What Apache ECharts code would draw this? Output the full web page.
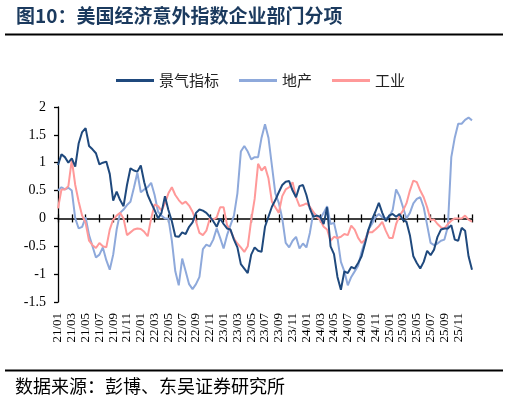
<!DOCTYPE html>
<html>
<head>
<meta charset="utf-8">
<script src="https://cdn.jsdelivr.net/npm/echarts@6/dist/echarts.min.js"></script>
<style>
html,body{margin:0;padding:0;background:#fff;}
#chart{width:509px;height:403px;}
</style>
</head>
<body>
<div id="chart"></div>
<script>
// Tick labels shown every two months
const tickLabels = ["21/01","21/03","21/05","21/07","21/09","21/11","22/01","22/03","22/05","22/07","22/09","22/11","23/01","23/03","23/05","23/07","23/09","23/11","24/01","24/03","24/05","24/07","24/09","24/11","25/01","25/03","25/05","25/07","25/09","25/11"];

// Half-month sampling points, 2021-01 .. 2026-01
const categories = [];
for (let y = 2021; y <= 2025; y++) {
  for (let m = 1; m <= 12; m++) {
    const mm = (m < 10 ? "0" : "") + m;
    categories.push(y + "-" + mm + "-01");
    categories.push(y + "-" + mm + "-16");
  }
}
categories.push("2026-01-01");

const seriesNames = ["景气指标", "地产", "工业"];

const prosperity = [0.96,1.15,1.1,1.0,1.08,0.93,1.35,1.55,1.62,1.3,1.24,1.17,0.97,1.0,1.02,0.8,0.32,0.48,0.33,0.22,
0.6,0.9,0.86,0.84,0.95,0.65,0.42,0.28,0.15,0.0,0.1,0.4,0.15,-0.05,-0.32,-0.33,-0.25,-0.28,-0.15,-0.07,
0.1,0.16,0.14,0.1,0.03,-0.05,-0.15,0.0,-0.1,-0.18,-0.2,-0.38,-0.52,-0.82,-0.9,-0.98,-0.65,-0.52,-0.58,-0.6,
-0.15,0.03,0.21,0.33,0.47,0.6,0.66,0.67,0.5,0.38,0.58,0.6,0.42,0.18,0.03,0.05,0.03,-0.1,0.2,-0.5,
-0.64,-1.05,-1.28,-0.95,-0.98,-0.87,-0.9,-0.8,-0.68,-0.45,-0.2,-0.02,0.12,0.28,0.1,-0.05,0.05,0.08,0.03,0.08,
-0.03,-0.06,-0.3,-0.68,-0.8,-0.9,-0.78,-0.58,-0.66,-0.56,-0.33,-0.2,-0.18,-0.18,-0.12,-0.38,-0.4,-0.17,-0.22,-0.68,
-0.92];

const realEstate = [0.5,0.56,0.52,0.55,0.5,0.0,-0.18,-0.15,0.02,-0.3,-0.5,-0.7,-0.65,-0.52,-0.75,-0.92,-0.65,-0.2,0.1,0.16,
0.24,0.3,0.55,0.82,0.47,0.52,0.56,0.64,0.42,0.12,0.05,0.0,0.0,-0.4,-0.95,-1.2,-0.72,-0.95,-1.18,-1.27,
-1.18,-1.05,-0.55,-0.47,-0.5,-0.38,-0.18,-0.35,-0.54,-0.3,-0.12,0.05,0.45,1.2,1.3,1.2,1.06,1.1,1.1,1.45,
1.69,1.45,0.95,0.45,0.28,0.0,-0.44,-0.52,-0.4,-0.33,-0.54,-0.45,-0.52,-0.26,0.1,0.05,0.0,0.1,0.22,-0.1,
-0.08,-0.35,-0.78,-0.95,-1.2,-1.05,-0.95,-0.85,-0.6,-0.4,-0.2,-0.1,0.02,0.08,0.02,0.0,0.03,0.15,0.52,0.4,
0.2,0.0,0.1,0.27,0.35,0.38,0.2,-0.12,-0.44,-0.48,-0.45,-0.4,-0.38,-0.15,1.1,1.45,1.7,1.7,1.77,1.81,
1.76];

const industry = [0.18,0.52,0.52,0.58,1.05,0.6,0.3,0.05,-0.08,-0.4,-0.48,-0.53,-0.44,-0.5,-0.52,-0.2,-0.02,0.05,0.1,0.0,
-0.3,-0.25,-0.2,-0.18,-0.19,-0.24,-0.32,0.0,0.25,0.22,0.14,0.27,0.45,0.56,0.42,0.33,0.26,0.3,0.23,0.12,
-0.05,-0.26,-0.3,-0.22,0.0,-0.02,0.02,0.2,0.2,-0.12,-0.22,-0.36,-0.45,-0.52,-0.6,-0.5,-0.03,0.35,0.98,0.86,
0.93,0.72,0.3,0.2,0.1,0.4,0.52,0.56,0.65,0.38,0.22,0.24,0.27,0.21,0.12,0.03,-0.03,-0.15,-0.2,-0.4,
-0.33,-0.35,-0.33,-0.28,-0.3,-0.13,-0.2,-0.35,-0.44,-0.38,-0.25,-0.25,-0.2,-0.14,-0.06,-0.22,-0.35,-0.35,-0.1,0.05,
0.14,0.27,0.5,0.68,0.65,0.5,0.38,0.2,-0.03,-0.02,-0.1,-0.16,-0.18,-0.1,-0.04,0.0,0.0,0.0,0.05,-0.02,
-0.06];

const colors = ["#1F497D", "#8EA9DB", "#FF9999"];

const chart = echarts.init(document.getElementById('chart'));
const serifFont = '"Liberation Serif","Times New Roman",serif';
const cjkFont = '"Noto Sans CJK SC",sans-serif';
const isTick = function (i) { return i % 4 === 0; };

chart.setOption({
  animation: false,
  backgroundColor: '#fff',
  color: colors,
  graphic: [
    { type: 'text', left: 16, top: 6, style: { text: '图10：美国经济意外指数企业部门分项', font: 'bold 19px ' + cjkFont, fill: '#1B3A5E' } },
    { type: 'line', shape: { x1: 5, y1: 34.5, x2: 503, y2: 34.5 }, style: { stroke: '#000', lineWidth: 2 } },
    { type: 'line', shape: { x1: 5, y1: 370.5, x2: 503, y2: 370.5 }, style: { stroke: '#000', lineWidth: 2 } },
    { type: 'text', left: 15, top: 377, style: { text: '数据来源：彭博、东吴证券研究所', font: '18px ' + cjkFont, fill: '#000' } }
  ],
  legend: {
    left: 111, top: 68,
    icon: 'rect', itemWidth: 38, itemHeight: 3, itemGap: 20,
    textStyle: { fontFamily: cjkFont, fontSize: 15, color: '#222' },
    data: seriesNames
  },
  grid: { left: 58, right: 37, top: 107, bottom: 101, containLabel: false },
  xAxis: [
    {
      type: 'category', data: categories, boundaryGap: false, position: 'bottom',
      axisLine: { show: false, onZero: false }, axisTick: { show: false },
      axisLabel: {
        rotate: 90, margin: 11, interval: isTick,
        fontFamily: serifFont, fontSize: 13, color: '#000',
        formatter: function (v, i) { return tickLabels[i / 4]; }
      },
      splitLine: { show: false }
    },
    {
      type: 'category', data: categories, boundaryGap: false, position: 'bottom',
      axisLine: { show: true, onZero: true, onZeroAxisIndex: 0, lineStyle: { color: '#000', width: 1.5 } },
      axisTick: { show: true, inside: true, length: 4, interval: isTick, lineStyle: { color: '#000', width: 1.3 } },
      axisLabel: { show: false }, splitLine: { show: false }
    },
    {
      type: 'category', data: categories, boundaryGap: false, position: 'bottom',
      axisLine: { show: false, onZero: true, onZeroAxisIndex: 0 },
      axisTick: { show: true, inside: false, length: 4, interval: isTick, lineStyle: { color: '#000', width: 1.3 } },
      axisLabel: { show: false }, splitLine: { show: false }
    }
  ],
  yAxis: {
    type: 'value', min: -1.5, max: 2, interval: 0.5,
    axisLine: { show: true, onZero: false, lineStyle: { color: '#000', width: 1.3 } },
    axisTick: { show: true, inside: false, length: 4, lineStyle: { color: '#000', width: 1.3 } },
    axisLabel: { margin: 12, fontFamily: serifFont, fontSize: 14, color: '#000' },
    splitLine: { show: false }
  },
  series: [
    { name: seriesNames[0], type: 'line', xAxisIndex: 0, data: prosperity, showSymbol: false, symbol: 'none', lineStyle: { width: 2, color: colors[0] }, z: 4 },
    { name: seriesNames[1], type: 'line', xAxisIndex: 0, data: realEstate, showSymbol: false, symbol: 'none', lineStyle: { width: 2, color: colors[1] }, z: 2 },
    { name: seriesNames[2], type: 'line', xAxisIndex: 0, data: industry, showSymbol: false, symbol: 'none', lineStyle: { width: 2, color: colors[2] }, z: 3 }
  ]
});
</script>
</body>
</html>
